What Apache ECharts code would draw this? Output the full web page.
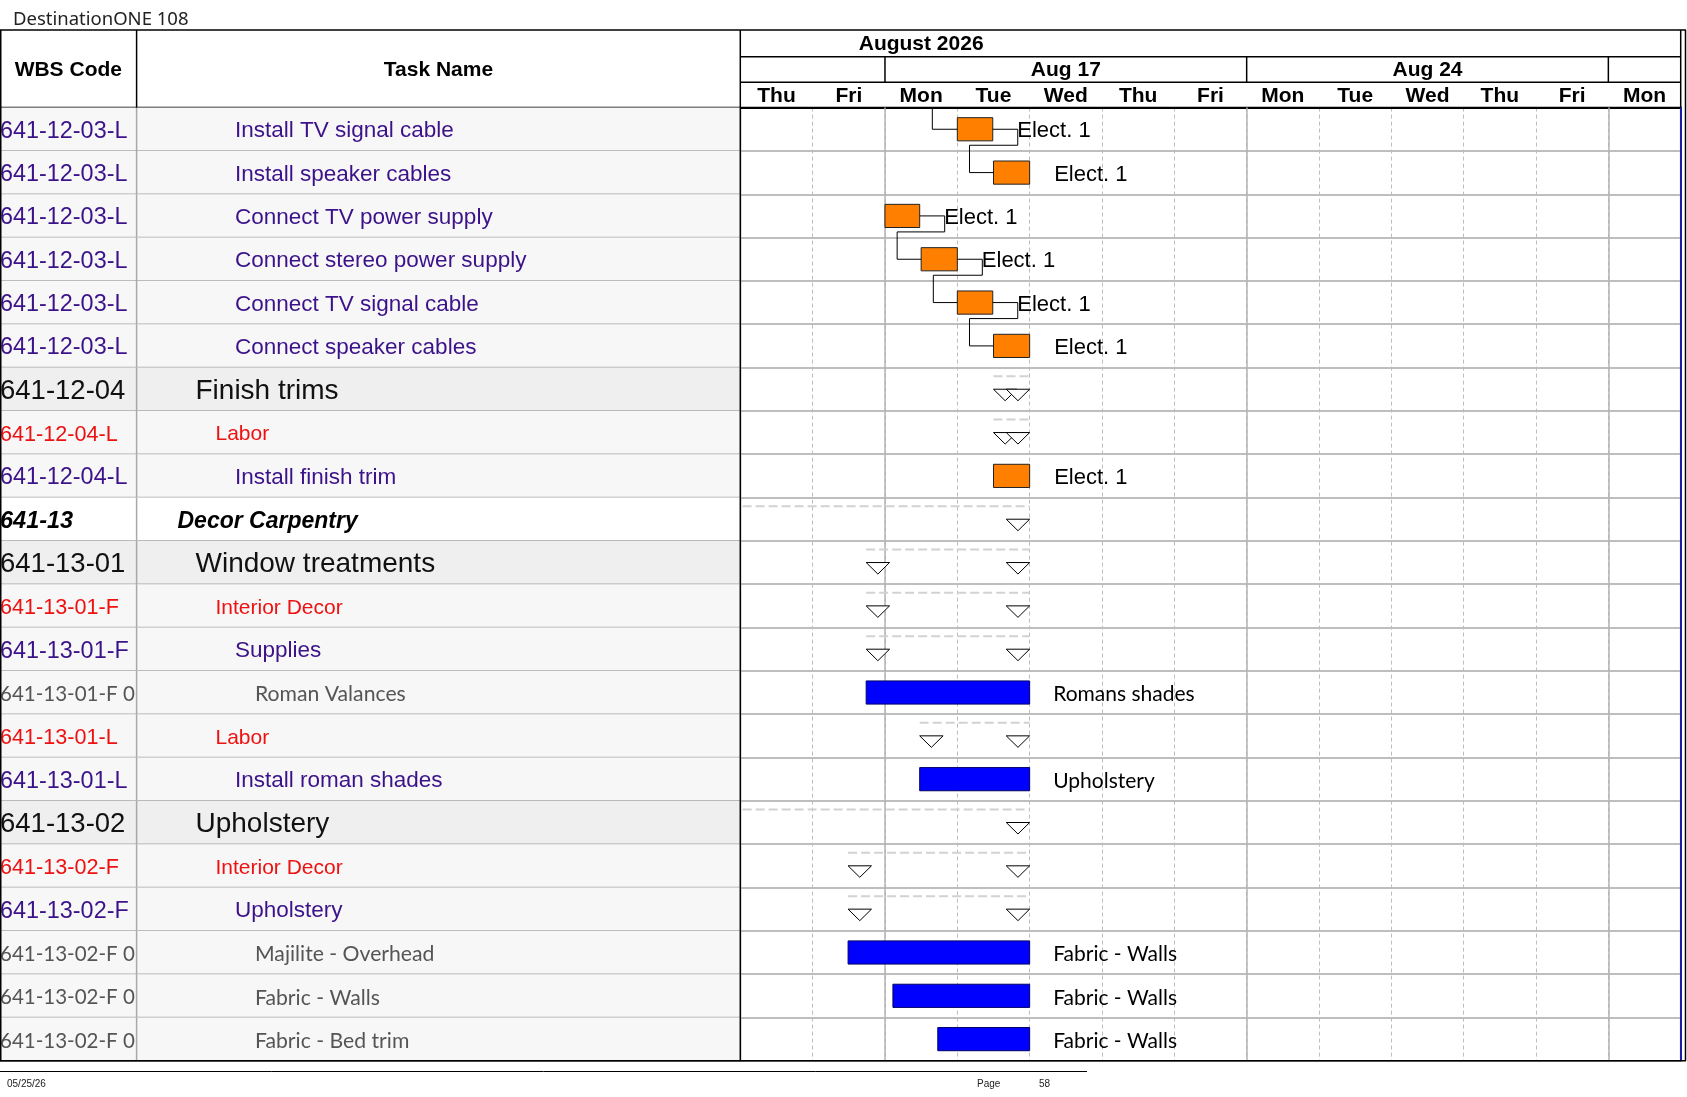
<!DOCTYPE html>
<html>
<head>
<meta charset="utf-8">
<title>DestinationONE 108</title>
<script src="https://cdn.jsdelivr.net/npm/echarts@6.0.0/dist/echarts.min.js"></script>
<style>
  html, body { margin: 0; padding: 0; background: #fff; }
  #main { width: 1687px; height: 1097px; }
</style>
</head>
<body>
<div id="main"></div>
<script>
// schedule rows, top to bottom
var wbsCodes = [
  '641-12-03-L', '641-12-03-L', '641-12-03-L', '641-12-03-L', '641-12-03-L', '641-12-03-L',
  '641-12-04', '641-12-04-L', '641-12-04-L',
  '641-13', '641-13-01', '641-13-01-F', '641-13-01-F', '641-13-01-F 0', '641-13-01-L', '641-13-01-L',
  '641-13-02', '641-13-02-F', '641-13-02-F', '641-13-02-F 0', '641-13-02-F 0', '641-13-02-F 0'
]
var taskNames = [
  'Install TV signal cable', 'Install speaker cables', 'Connect TV power supply',
  'Connect stereo power supply', 'Connect TV signal cable', 'Connect speaker cables',
  'Finish trims', 'Labor', 'Install finish trim',
  'Decor Carpentry', 'Window treatments', 'Interior Decor', 'Supplies', 'Roman Valances',
  'Labor', 'Install roman shades',
  'Upholstery', 'Interior Decor', 'Upholstery', 'Majilite - Overhead', 'Fabric - Walls', 'Fabric - Bed trim'
]
// outline level of each row (text style in the table)
var rowLevels = [
  'task', 'task', 'task', 'task', 'task', 'task',
  'summary', 'group', 'task',
  'phase', 'summary', 'group', 'task', 'item', 'group', 'task',
  'summary', 'group', 'task', 'item', 'item', 'item'
]
// what the gantt draws: labor bar, material bar or rollup markers
var markKinds = [
  'labor', 'labor', 'labor', 'labor', 'labor', 'labor',
  'rollup', 'rollup', 'labor',
  'rollup', 'rollup', 'rollup', 'rollup', 'material', 'rollup', 'material',
  'rollup', 'rollup', 'rollup', 'material', 'material', 'material'
]
// start / finish in working days from the start of Thu Aug 13
var startDays = [
  3.0, 3.5, 2.0, 2.5, 3.0, 3.5,
  3.5, 3.5, 3.5,
  -5, 1.74, 1.74, 1.74, 1.74, 2.48, 2.48,
  -5, 1.49, 1.49, 1.49, 2.11, 2.73
]
var finishDays = [
  3.49, 4.0, 2.48, 3.0, 3.49, 4.0,
  4.0, 4.0, 4.0,
  4.0, 4.0, 4.0, 4.0, 4.0, 4.0, 4.0,
  4.0, 4.0, 4.0, 4.0, 4.0, 4.0
]
var resourceNames = [
  'Elect. 1', 'Elect. 1', 'Elect. 1', 'Elect. 1', 'Elect. 1', 'Elect. 1',
  '', '', 'Elect. 1',
  '', '', '', '', 'Romans shades', '', 'Upholstery',
  '', '', '', 'Fabric - Walls', 'Fabric - Walls', 'Fabric - Walls'
]
// finish-to-start links [from row, to row]; -1 = predecessor on an earlier page
var links = [[-1, 0], [0, 1], [2, 3], [3, 4], [4, 5]]

// timescale
var dayLabels = ['Thu', 'Fri', 'Mon', 'Tue', 'Wed', 'Thu', 'Fri', 'Mon', 'Tue', 'Wed', 'Thu', 'Fri', 'Mon']
var weekLabels = ['Aug 10', 'Aug 17', 'Aug 24', 'Aug 31']
var weekStarts = [-3, 2, 7, 12]
var weekEnds = [2, 7, 12, 17]
var monthLabels = ['August 2026']
var monthStarts = [-8]
var monthEnds = [13]
var columnTitles = ['WBS Code', 'Task Name']

// layout
var TOP = 107.6
var BODY_H = 953.2
var BOTTOM = TOP + BODY_H
var COL_WBS = 136.6
var COL_TABLE = 740.3
var GANTT_W = 940.4
var TEXT_DY = 2
var ARIAL = '"Liberation Sans", Arial, sans-serif'
var CALIBRI = 'Lato, "Open Sans", sans-serif'

var textStyles = {
  task: { color: '#3b1289', size: 22.5, codeSize: 23.4, family: ARIAL, weight: 'normal', italic: 'normal', indent: 235 },
  group: { color: '#ee1111', size: 21, codeSize: 21.6, family: ARIAL, weight: 'normal', italic: 'normal', indent: 215.5 },
  summary: { color: '#111111', size: 28, codeSize: 27.5, family: ARIAL, weight: 'normal', italic: 'normal', indent: 195.5 },
  phase: { color: '#000000', size: 23, codeSize: 23.5, family: ARIAL, weight: 'bold', italic: 'italic', indent: 177.5 },
  item: { color: '#555555', size: 21.2, codeSize: 20.5, family: CALIBRI, weight: 'normal', italic: 'normal', indent: 255 }
}
var rowFill = { task: '#f7f7f7', group: '#f7f7f7', summary: '#efefef', phase: '#ffffff', item: '#f7f7f7' }

var rowIdx = taskNames.map(function (n, i) { return i })

var tableData = rowIdx.map(function (i) { return [0, i] })
var barData = []
var rollupData = []
rowIdx.forEach(function (i) {
  if (markKinds[i] === 'rollup') rollupData.push([startDays[i], i, finishDays[i]])
  else barData.push([startDays[i], i, finishDays[i]])
})
var linkData = links.map(function (l) {
  var from = l[0], to = l[1]
  return [startDays[to], to, from < 0 ? startDays[to] : finishDays[from], from]
})
var weekData = weekLabels.map(function (w, i) { return [weekStarts[i], weekEnds[i], 0] })
var monthData = monthLabels.map(function (m, i) { return [monthStarts[i], monthEnds[i], 0] })

function textEl(x, y, text, st, align, size) {
  return {
    type: 'text', x: x, y: y,
    style: {
      text: text, fill: st.color, fontSize: size || st.size, fontFamily: st.family,
      fontWeight: st.weight, fontStyle: st.italic, align: align || 'left', verticalAlign: 'middle'
    }
  }
}

function frameLine(x1, y1, x2, y2) {
  return { type: 'line', z: 100, shape: { x1: x1, y1: y1, x2: x2, y2: y2 }, style: { stroke: '#000', lineWidth: 1.5 } }
}

function renderTableRow(params, api) {
  var i = api.value(1)
  var cy = api.coord([0, i])[1]
  var h = api.size([0, 1])[1]
  var top = cy - h / 2
  var lvl = rowLevels[i]
  var st = textStyles[lvl]
  return {
    type: 'group',
    children: [
      { type: 'rect', shape: { x: 0, y: top, width: COL_TABLE, height: h }, style: { fill: rowFill[lvl] } },
      { type: 'line', shape: { x1: 0, y1: top + h, x2: COL_TABLE, y2: top + h }, style: { stroke: '#a8a8a8', lineWidth: 1.5 } },
      { type: 'line', shape: { x1: COL_WBS, y1: top, x2: COL_WBS, y2: top + h }, style: { stroke: '#a8a8a8', lineWidth: 1.5 } },
      textEl(0, cy + TEXT_DY, wbsCodes[i], st, 'left', st.codeSize),
      textEl(st.indent, cy + TEXT_DY, taskNames[i], st)
    ]
  }
}

function renderBar(params, api) {
  var i = api.value(1)
  var s = api.coord([api.value(0), i])
  var e = api.coord([api.value(2), i])
  var h = api.size([0, 1])[1] * 0.535
  var labor = markKinds[i] === 'labor'
  return {
    type: 'group',
    children: [
      {
        type: 'rect',
        shape: { x: s[0], y: s[1] - h / 2, width: e[0] - s[0], height: h },
        style: labor ? { fill: '#ff8000', stroke: '#222', lineWidth: 1 } : { fill: '#0000ff', stroke: '#000066', lineWidth: 1 }
      },
      labor
        ? textEl(e[0] + 24.5, s[1] + TEXT_DY, resourceNames[i], { color: '#000', size: 22, family: ARIAL, weight: 'normal', italic: 'normal' })
        : textEl(e[0] + 23.5, s[1] + TEXT_DY, resourceNames[i], { color: '#000', size: 21, family: CALIBRI, weight: 'normal', italic: 'normal' })
    ]
  }
}

function renderRollup(params, api) {
  var i = api.value(1)
  var s = api.coord([api.value(0), i])
  var e = api.coord([api.value(2), i])
  var cy = s[1]
  var w = 23.4, th = 11.5
  var tri = function (x) {
    return {
      type: 'polygon',
      shape: { points: [[x, cy], [x + w, cy], [x + w / 2, cy + th]] },
      style: { fill: '#fff', stroke: '#000', lineWidth: 1 }
    }
  }
  return {
    type: 'group',
    children: [
      { type: 'line', shape: { x1: s[0], y1: cy - 13, x2: e[0], y2: cy - 13 }, style: { stroke: '#d2d2d2', lineWidth: 2, lineDash: [9, 4] } },
      tri(s[0]),
      tri(e[0] - w)
    ]
  }
}

function renderLink(params, api) {
  var to = api.value(1)
  var from = api.value(3)
  var t = api.coord([api.value(0), to])
  var pts
  if (from < 0) {
    var h = api.size([0, 1])[1]
    pts = [[t[0] - 25, t[1] - h / 2], [t[0] - 25, t[1]], [t[0], t[1]]]
  } else {
    var f = api.coord([api.value(2), from])
    pts = [[f[0], f[1]], [f[0] + 25, f[1]], [f[0] + 25, f[1] + 16],
      [t[0] - 24, f[1] + 16], [t[0] - 24, t[1]], [t[0], t[1]]]
  }
  return { type: 'polyline', shape: { points: pts }, style: { stroke: '#000', lineWidth: 1, fill: null } }
}

function bandRenderer(labels, lineTop, lineBottom, labelY) {
  return function (params, api) {
    var cs = params.coordSys
    var x0 = api.coord([api.value(0), 0])[0]
    var x1 = api.coord([api.value(1), 0])[0]
    var children = []
    if (x0 > cs.x + 1 && x0 < cs.x + cs.width - 1) {
      children.push({ type: 'line', shape: { x1: x0, y1: cs.y - lineTop, x2: x0, y2: cs.y - lineBottom }, style: { stroke: '#000', lineWidth: 1.5 } })
    }
    var cx = (x0 + x1) / 2
    if (cx > cs.x && cx < cs.x + cs.width) {
      children.push(textEl(cx, cs.y - labelY, labels[params.dataIndex],
        { color: '#000', size: 21, family: ARIAL, weight: 'bold', italic: 'normal' }, 'center'))
    }
    return { type: 'group', children: children }
  }
}

var chart = echarts.init(document.getElementById('main'))

var option = {
  backgroundColor: '#fff',
  animation: false,
  title: {
    text: 'DestinationONE 108',
    left: 8,
    top: 5,
    textStyle: { fontSize: 18.5, fontWeight: 'normal', color: '#222', fontFamily: '"Noto Sans", sans-serif' }
  },
  grid: [
    { left: 0.75, top: TOP, width: COL_TABLE - 0.75, height: BODY_H, show: true, borderColor: '#000', borderWidth: 1.5 },
    { left: COL_TABLE, top: TOP, width: GANTT_W, height: BODY_H, show: true, borderColor: '#000', borderWidth: 1.5 }
  ],
  xAxis: [
    { gridIndex: 0, type: 'value', min: 0, max: 1, show: false },
    {
      gridIndex: 1, type: 'category', data: dayLabels, position: 'top', boundaryGap: true,
      axisLine: { lineStyle: { color: '#000', width: 2 } },
      axisTick: { interval: 0, length: 25, lineStyle: { color: '#000', width: 1.5 } },
      axisLabel: { interval: 0, color: '#000', fontWeight: 'bold', fontSize: 21, fontFamily: ARIAL, margin: 1, lineHeight: 21 },
      splitLine: { show: true, interval: 0, lineStyle: { color: '#bdbdbd', type: [4, 3], width: 1 } }
    },
    { gridIndex: 1, type: 'value', min: 0, max: 13, show: false }
  ],
  yAxis: [
    { gridIndex: 0, type: 'category', data: rowIdx, inverse: true, show: false },
    {
      gridIndex: 1, type: 'category', data: rowIdx, inverse: true,
      axisLine: { show: false }, axisTick: { show: false }, axisLabel: { show: false },
      splitLine: { show: true, interval: 0, lineStyle: { color: '#a8a8a8', width: 1.5 } }
    }
  ],
  graphic: [
    // table frame and header rules
    frameLine(0, 30, 1686, 30),
    frameLine(0.75, 30, 0.75, BOTTOM),
    frameLine(0, BOTTOM, 1686, BOTTOM),
    frameLine(COL_WBS, 30, COL_WBS, TOP),
    frameLine(COL_TABLE, 30, COL_TABLE, BOTTOM),
    frameLine(COL_TABLE, 56.7, COL_TABLE + GANTT_W, 56.7),
    frameLine(COL_TABLE, 82.3, COL_TABLE + GANTT_W, 82.3),
    frameLine(COL_TABLE + GANTT_W, 30, COL_TABLE + GANTT_W, TOP),
    frameLine(1685.5, 30, 1685.5, BOTTOM),
    {
      type: 'text', x: COL_WBS / 2, y: 70,
      style: { text: columnTitles[0], fill: '#000', fontSize: 21, fontWeight: 'bold', fontFamily: ARIAL, align: 'center', verticalAlign: 'middle' }
    },
    {
      type: 'text', x: (COL_WBS + COL_TABLE) / 2, y: 70,
      style: { text: columnTitles[1], fill: '#000', fontSize: 21, fontWeight: 'bold', fontFamily: ARIAL, align: 'center', verticalAlign: 'middle' }
    },
    // footer
    { type: 'line', shape: { x1: 0, y1: 1071.5, x2: 1087, y2: 1071.5 }, style: { stroke: '#000', lineWidth: 1 } },
    { type: 'text', x: 7, y: 1084.5, style: { text: '05/25/26', fill: '#222', fontSize: 10, fontFamily: ARIAL, verticalAlign: 'middle' } },
    { type: 'text', x: 977, y: 1084.5, style: { text: 'Page', fill: '#222', fontSize: 10, fontFamily: ARIAL, verticalAlign: 'middle' } },
    { type: 'text', x: 1039, y: 1084.5, style: { text: '58', fill: '#222', fontSize: 10, fontFamily: ARIAL, verticalAlign: 'middle' } }
  ],
  series: [
    {
      // week boundaries and the status line at the right
      type: 'line', xAxisIndex: 2, yAxisIndex: 1, data: [[0, 0]], showSymbol: false,
      lineStyle: { opacity: 0 }, z: 1, silent: true,
      markLine: {
        silent: true, symbol: 'none', label: { show: false }, z: 1,
        data: weekStarts.filter(function (w) { return w > 0 && w < 13 }).map(function (w) {
          return { xAxis: w, lineStyle: { color: '#b3b3b3', type: 'solid', width: 1.5 } }
        }).concat([{ xAxis: 13, lineStyle: { color: '#1c1ca8', type: 'solid', width: 2 } }])
      }
    },
    {
      type: 'custom', xAxisIndex: 0, yAxisIndex: 0, data: tableData,
      encode: { x: 0, y: 1 }, renderItem: renderTableRow, z: 2, silent: true
    },
    {
      type: 'custom', xAxisIndex: 2, yAxisIndex: 1, data: rollupData, clip: true,
      encode: { x: [0, 2], y: 1 }, renderItem: renderRollup, z: 3, silent: true
    },
    {
      type: 'custom', xAxisIndex: 2, yAxisIndex: 1, data: barData, clip: false,
      encode: { x: [0, 2], y: 1 }, renderItem: renderBar, z: 4, silent: true
    },
    {
      type: 'custom', xAxisIndex: 2, yAxisIndex: 1, data: linkData, clip: false,
      encode: { x: [0, 2], y: 1 }, renderItem: renderLink, z: 5, silent: true
    },
    {
      type: 'custom', xAxisIndex: 2, yAxisIndex: 1, data: weekData, clip: false,
      encode: { x: [0, 1], y: 2 }, renderItem: bandRenderer(weekLabels, TOP - 56.7, TOP - 82.3, TOP - 70.3), z: 6, silent: true
    },
    {
      type: 'custom', xAxisIndex: 2, yAxisIndex: 1, data: monthData, clip: false,
      encode: { x: [0, 1], y: 2 }, renderItem: bandRenderer(monthLabels, TOP - 30, TOP - 56.7, TOP - 44.3), z: 6, silent: true
    }
  ]
}

chart.setOption(option)
</script>
</body>
</html>
